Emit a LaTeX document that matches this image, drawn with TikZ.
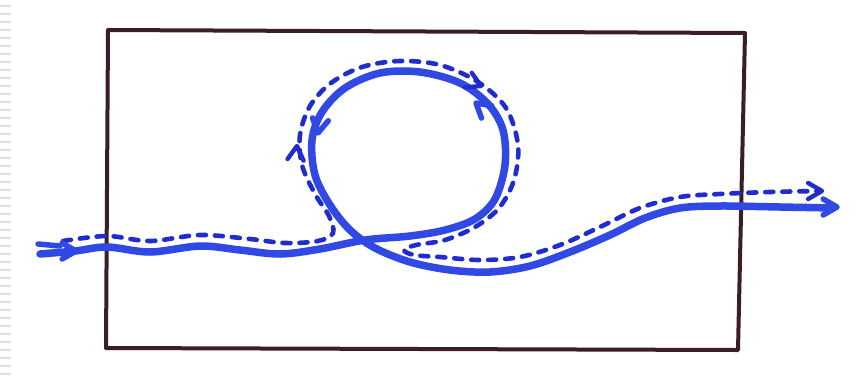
\documentclass[tikz,border=0pt]{standalone}
\usetikzlibrary{calc}
\definecolor{rectcol}{RGB}{58,30,36}
\definecolor{solidblue}{RGB}{48,72,228}
\definecolor{dashblue}{RGB}{32,44,205}
\tikzset{
  frame/.style={draw=rectcol, line width=4pt, line join=round},
  solidpath/.style={draw=solidblue, line width=7.5pt, line cap=round, line join=round},
  dashpath/.style={draw=dashblue, line width=4.6pt, line cap=round, dash pattern=on 8pt off 9pt},
  chevsolid/.style={draw=solidblue, line width=5.5pt, line cap=round, line join=round},
  chevdash/.style={draw=dashblue, line width=4.4pt, line cap=round, line join=round},
  stripe/.style={draw=black!13, line width=1.6pt}
}
\newcommand\mychev[4]{\draw[#4] (#1,#2) +(#3+150:16) -- (#1,#2) -- +(#3-150:16);}
\begin{document}
\begin{tikzpicture}[x=1pt,y=-1pt]
\useasboundingbox (0,0) rectangle (861,384);
\fill[white] (0,0) rectangle (861,384);
% left edge stripes
\foreach \yy in {6,14,...,380} {\draw[stripe] (0,\yy) -- (11,\yy);}
% frame
\draw[frame] (108,30) -- (745,33) -- (738,350) -- (106,348) -- cycle;
% solid path
\draw[solidpath] plot[smooth, tension=0.55] coordinates {
 (40,254) (75,251) (107,247) (150,252) (200,246) (240,250) (280,254) (320,249)
 (365,240) (410,236) (445,230) (475,219) (495,199) (505,165) (503,130) (488,104)
 (460,83) (420,72) (380,73) (345,88) (322,112) (312,140) (315,175) (330,205)
 (350,230) (375,248) (410,262) (450,270) (490,272) (530,266) (570,252) (610,235)
 (645,218) (680,208) (720,206) (780,207) (833,208)};
% dashed path
\draw[dashpath] plot[smooth, tension=0.55] coordinates {
 (63,241) (107,236) (150,241) (200,235) (250,239) (285,243) (318,241) (333,233)
 (329,216) (315,194) (302,165) (300,135) (310,106) (331,83) (362,67) (400,61)
 (440,65) (478,82) (506,108) (518,145) (514,180) (499,208) (475,227) (445,240)
 (416,245) (404,250) (414,255) (440,257) (480,260) (520,257) (560,245) (600,227)
 (640,208) (680,197) (720,194) (770,192) (818,191)};
% start scribble
\draw[chevsolid] (38,244) -- (60,246);
\mychev{76}{251}{0}{chevsolid}
% arrowheads
\mychev{837}{207}{0}{chevsolid}
\mychev{822}{191}{0}{chevdash}
\mychev{476}{103}{-140}{chevsolid}
\mychev{481}{86}{25}{chevdash}
\mychev{318}{133}{100}{chevsolid}
\mychev{297}{146}{-84}{chevdash}
\end{tikzpicture}
\end{document}
